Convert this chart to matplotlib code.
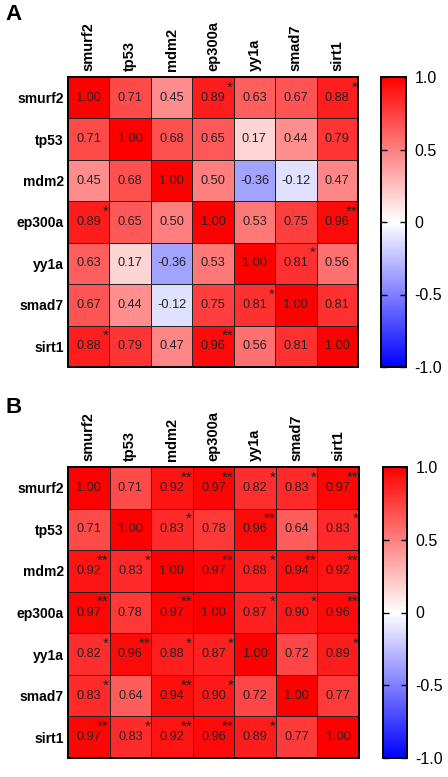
import numpy as np
import matplotlib
matplotlib.use('Agg')
import matplotlib.pyplot as plt

plt.rcParams['font.family'] = ['Liberation Sans', 'DejaVu Sans']

genes = ['smurf2', 'tp53', 'mdm2', 'ep300a', 'yy1a', 'smad7', 'sirt1']

corr_a = [
    [1.00, 0.71, 0.45, 0.89, 0.63, 0.67, 0.88],
    [0.71, 1.00, 0.68, 0.65, 0.17, 0.44, 0.79],
    [0.45, 0.68, 1.00, 0.50, -0.36, -0.12, 0.47],
    [0.89, 0.65, 0.50, 1.00, 0.53, 0.75, 0.96],
    [0.63, 0.17, -0.36, 0.53, 1.00, 0.81, 0.56],
    [0.67, 0.44, -0.12, 0.75, 0.81, 1.00, 0.81],
    [0.88, 0.79, 0.47, 0.96, 0.56, 0.81, 1.00],
]
stars_a = [
    ['', '', '', '*', '', '', '*'],
    ['', '', '', '', '', '', ''],
    ['', '', '', '', '', '', ''],
    ['*', '', '', '', '', '', '**'],
    ['', '', '', '', '', '*', ''],
    ['', '', '', '', '*', '', ''],
    ['*', '', '', '**', '', '', ''],
]

corr_b = [
    [1.00, 0.71, 0.92, 0.97, 0.82, 0.83, 0.97],
    [0.71, 1.00, 0.83, 0.78, 0.96, 0.64, 0.83],
    [0.92, 0.83, 1.00, 0.97, 0.88, 0.94, 0.92],
    [0.97, 0.78, 0.97, 1.00, 0.87, 0.90, 0.96],
    [0.82, 0.96, 0.88, 0.87, 1.00, 0.72, 0.89],
    [0.83, 0.64, 0.94, 0.90, 0.72, 1.00, 0.77],
    [0.97, 0.83, 0.92, 0.96, 0.89, 0.77, 1.00],
]
stars_b = [
    ['', '', '**', '**', '*', '*', '**'],
    ['', '', '*', '', '**', '', '*'],
    ['**', '*', '', '**', '*', '**', '**'],
    ['**', '', '**', '', '*', '*', '**'],
    ['*', '**', '*', '*', '', '', '*'],
    ['*', '', '**', '*', '', '', ''],
    ['**', '*', '**', '**', '*', '', ''],
]

cbar_ticks = [-1.0, -0.5, 0.0, 0.5, 1.0]
cbar_labels = ['-1.0', '-0.5', '0', '0.5', '1.0']

W, H = 448, 777
fig = plt.figure(figsize=(W / 100, H / 100), dpi=100)


def px_axes(x0, y0, x1, y1):
    return fig.add_axes([x0 / W, 1 - y1 / H, (x1 - x0) / W, (y1 - y0) / H])


def panel(data, stars, box, cbox, letter, letter_y):
    data = np.array(data)
    n = len(genes)
    ax = px_axes(*box)
    mesh = ax.pcolormesh(np.arange(n + 1) - 0.5, np.arange(n + 1) - 0.5, data,
                         cmap='bwr', vmin=-1, vmax=1,
                         edgecolors='#222222', linewidth=0.6)
    ax.set_xlim(-0.5, n - 0.5)
    ax.set_ylim(n - 0.5, -0.5)
    ax.xaxis.tick_top()
    ax.set_xticks(range(n))
    ax.set_xticklabels(genes, rotation=90, fontsize=10.5, fontweight='bold')
    ax.set_yticks(range(n))
    ax.set_yticklabels(genes, fontsize=10, fontweight='bold')
    ax.tick_params(length=0, pad=3)
    ax.tick_params(axis='x', pad=4)
    for s in ax.spines.values():
        s.set_linewidth(1.4)
    for i in range(n):
        for j in range(n):
            ax.text(j, i, '%.2f' % data[i, j], ha='center', va='center',
                    fontsize=9.2, color='#222222')
            if stars[i][j]:
                ax.annotate(stars[i][j], xy=(j, i), xytext=(14.5, 4.5),
                            textcoords='offset points', ha='right',
                            va='baseline', fontsize=11, color='#222222')
    cax = px_axes(*cbox)
    cb = fig.colorbar(mesh, cax=cax, ticks=cbar_ticks)
    cb.set_ticklabels(cbar_labels)
    cb.outline.set_linewidth(1.4)
    cax.tick_params(direction='in', left=True, right=True, length=4,
                    width=1, labelsize=11.5, pad=6)
    fig.text(5 / W, 1 - letter_y / H, letter, fontsize=16, fontweight='bold',
             ha='left', va='center')


panel(corr_a, stars_a, (68, 77, 358, 367), (381, 77, 406, 367), 'A', 15)
panel(corr_b, stars_b, (68, 467, 359, 758), (383, 467, 407, 758), 'B', 408)

fig.savefig('out.png', dpi=100)
